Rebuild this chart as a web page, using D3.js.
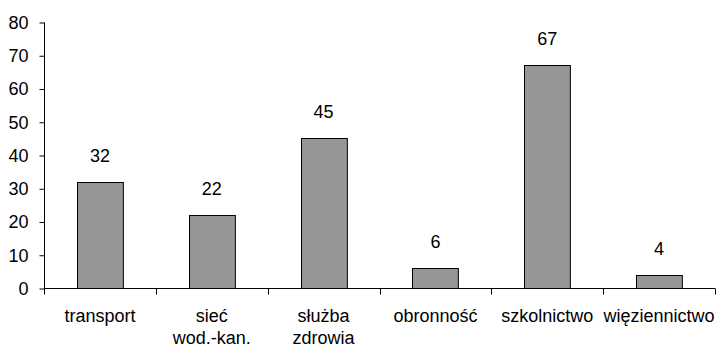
<!DOCTYPE html>
<html>
<head>
<meta charset="utf-8">
<script src="https://cdn.jsdelivr.net/npm/d3@7"></script>
<style>
  html, body { margin: 0; padding: 0; background: #fff; }
  svg { display: block; }
  text { font-family: "Liberation Sans", Arial, sans-serif; fill: #000; }
</style>
</head>
<body>
<svg id="chart" width="716" height="348"></svg>
<script>
// Category labels (each line of a wrapped label is its own entry)
const categories = ["transport", "sieć wod.-kan.", "służba zdrowia", "obronność", "szkolnictwo", "więziennictwo"];
const categoryLines = [["transport"], ["sieć", "wod.-kan."], ["służba", "zdrowia"], ["obronność"], ["szkolnictwo"], ["więziennictwo"]];
const values = [32, 22, 45, 6, 67, 4];
const yTicks = [0, 10, 20, 30, 40, 50, 60, 70, 80];

const svg = d3.select("#chart");
const margin = { left: 44, right: 1, top: 22, bottom: 60 };
const width = 716, height = 348;
const fontSize = 18;

const x = d3.scaleBand()
  .domain(categories)
  .range([margin.left, width - margin.right])
  .paddingInner(0.59)
  .paddingOuter(0.295);

const y = d3.scaleLinear()
  .domain([0, 80])
  .range([height - margin.bottom, margin.top]);

// Bars
svg.append("g")
  .selectAll("rect")
  .data(values)
  .join("rect")
  .attr("x", (d, i) => Math.round(x(categories[i])) + 0.5)
  .attr("y", d => Math.round(y(d)) + 0.5)
  .attr("width", x.bandwidth())
  .attr("height", d => Math.round(y(0)) - Math.round(y(d)))
  .attr("fill", "#969696")
  .attr("stroke", "#000")
  .attr("stroke-width", 1);

// Value labels above bars
svg.append("g")
  .selectAll("text")
  .data(values)
  .join("text")
  .attr("x", (d, i) => x(categories[i]) + x.bandwidth() / 2)
  .attr("y", d => y(d) - 20)
  .attr("text-anchor", "middle")
  .attr("font-size", fontSize)
  .text(d => d);

// Y axis
const yAxis = d3.axisLeft(y).tickValues(yTicks).tickSize(5).tickPadding(11);
const gy = svg.append("g")
  .attr("transform", `translate(${margin.left + 0.5},0.5)`)
  .call(yAxis);
gy.selectAll(".domain").attr("d", `M0,${y(80)}V${y(0)}`).attr("stroke", "#000");
gy.selectAll(".tick line").attr("stroke", "#000");
gy.selectAll(".tick text").attr("font-size", fontSize).attr("font-family", null).attr("fill", "#000");

// X axis: ticks sit on category boundaries
const boundaries = categories.map(c => x(c) - x.step() * x.paddingInner() / 2);
boundaries.push(width - margin.right - 0.5);
const gx = svg.append("g").attr("transform", `translate(0,${Math.round(y(0)) + 0.5})`);
gx.append("line")
  .attr("x1", margin.left).attr("x2", width - margin.right)
  .attr("stroke", "#000");
gx.selectAll("line.tick")
  .data(boundaries)
  .join("line")
  .attr("class", "tick")
  .attr("x1", d => Math.round(d) + 0.5).attr("x2", d => Math.round(d) + 0.5)
  .attr("y1", 0).attr("y2", 6)
  .attr("stroke", "#000");

// Category labels, wrapped onto two lines where needed
const lab = gx.selectAll("text.cat")
  .data(categoryLines)
  .join("text")
  .attr("class", "cat")
  .attr("text-anchor", "middle")
  .attr("font-size", fontSize)
  .attr("transform", (d, i) => `translate(${x(categories[i]) + x.bandwidth() / 2},33)`);
lab.selectAll("tspan")
  .data(d => d)
  .join("tspan")
  .attr("x", 0)
  .attr("dy", (d, j) => j === 0 ? 0 : 22)
  .text(d => d);
</script>
</body>
</html>
